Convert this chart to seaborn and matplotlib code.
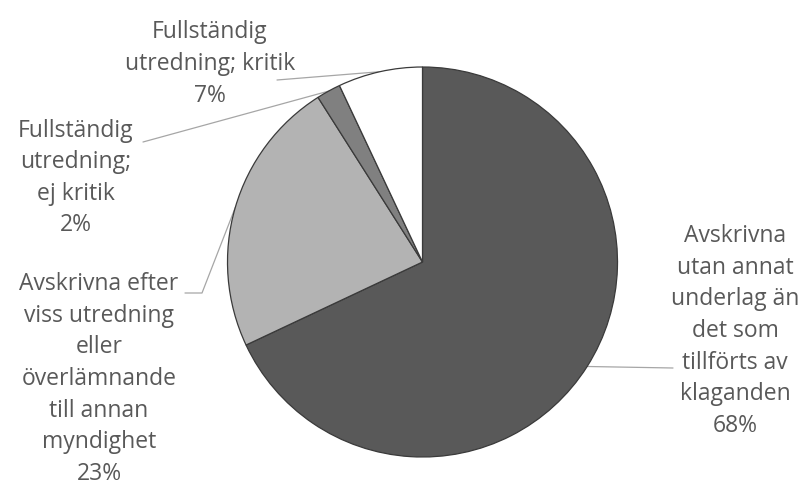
import numpy as np
import matplotlib
matplotlib.use('Agg')
import matplotlib.pyplot as plt
import seaborn as sns

# =====================
# DATA
# =====================
categories = ['Avskrivna\nutan annat\nunderlag än\ndet som\ntillförts av\nklaganden',
              'Avskrivna efter\nviss utredning\neller\növerlämnande\ntill annan\nmyndighet',
              'Fullständig\nutredning;\nej kritik',
              'Fullständig\nutredning; kritik']
shares = [68, 23, 2, 7]
slice_colors = ['#595959', '#b3b3b3', '#808080', '#ffffff']

# =====================
# LAYOUT (pixels, y from top)
# =====================
W, H = 806, 493
CX, CY, R = 422.5, 262, 195
label_pos = [(735, 331), (99, 379), (76, 178), (210, 64)]
leader_knees = [[(673, 368)],
                [(202, 293), (185, 293)],
                [(143, 142)],
                [(277, 80)]]

sns.set_theme(style='white')
plt.rcParams['font.family'] = ['Open Sans', 'DejaVu Sans']

fig = plt.figure(figsize=(W / 100, H / 100), dpi=100)
ax = fig.add_axes([0, 0, 1, 1])

wedges, _ = ax.pie(shares, colors=slice_colors, startangle=90, counterclock=False,
                   center=(CX, H - CY), radius=R, frame=True,
                   wedgeprops=dict(edgecolor='#3a3a3a', linewidth=0.9))
ax.set_xlim(0, W)
ax.set_ylim(0, H)
ax.set_aspect('equal')
ax.axis('off')

for w, name, val, (tx, ty), knees in zip(wedges, categories, shares, label_pos, leader_knees):
    mid = np.deg2rad((w.theta1 + w.theta2) / 2)
    ex, ey = CX + R * np.cos(mid), (H - CY) + R * np.sin(mid)
    xs = [ex] + [k[0] for k in knees]
    ys = [ey] + [H - k[1] for k in knees]
    ax.plot(xs, ys, color='#a6a6a6', lw=0.9, zorder=0.5)
    ax.text(tx, H - ty, f'{name}\n{val}%', ha='center', va='center',
            multialignment='center', fontsize=16.5, color='#595959', linespacing=1.42)

fig.savefig('out.png', dpi=100)
